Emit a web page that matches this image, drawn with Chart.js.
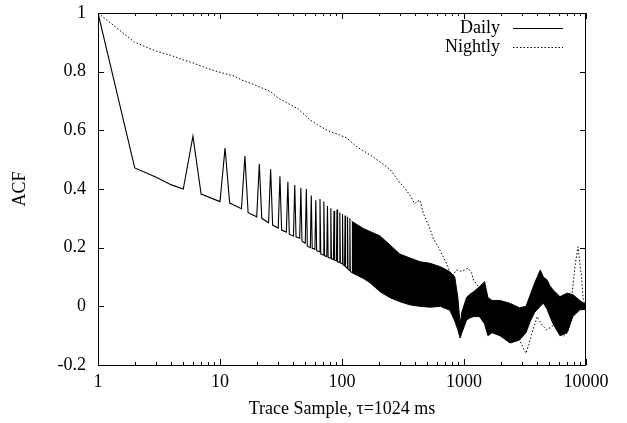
<!DOCTYPE html>
<html>
<head>
<meta charset="utf-8">
<script src="https://cdn.jsdelivr.net/npm/chart.js@4.4.0/dist/chart.umd.min.js"></script>
<style>
  html, body { margin: 0; padding: 0; background: #fff; }
  #wrap { width: 627px; height: 423px; position: relative; }
</style>
</head>
<body>
<div id="wrap"><canvas id="chart"></canvas></div>
<script>
// Daily ACF, sparse part: spikes every 5 samples
const dailyLag = [1, 2, 3, 4, 5, 6, 7, 10, 11, 12, 15, 16, 17, 20, 21, 22, 25, 26, 27, 30,
  31, 32, 35, 36, 37, 40, 41, 42, 45, 46, 47, 50, 51, 52, 55, 56, 57, 60, 61, 62,
  65, 66, 67, 70, 71, 72, 75, 76, 77, 80, 81, 82, 85, 86, 87, 90, 91, 92, 95, 96,
  97, 100, 101, 102, 105, 106, 107, 110, 111, 112, 115, 116, 117, 120];
const dailyAcf = [1.0, 0.472, 0.44, 0.414, 0.40, 0.58, 0.383, 0.357, 0.54, 0.352, 0.333, 0.512, 0.319, 0.305, 0.485, 0.30, 0.285, 0.467, 0.277, 0.267,
  0.443, 0.26, 0.253, 0.425, 0.245, 0.24, 0.414, 0.237, 0.232, 0.404, 0.222, 0.215, 0.40, 0.205, 0.20, 0.378, 0.198, 0.195, 0.362, 0.19,
  0.186, 0.366, 0.178, 0.175, 0.357, 0.172, 0.17, 0.342, 0.167, 0.164, 0.334, 0.162, 0.16, 0.325, 0.157, 0.155, 0.33, 0.152, 0.15, 0.32,
  0.148, 0.145, 0.315, 0.142, 0.138, 0.31, 0.135, 0.13, 0.305, 0.127, 0.122, 0.30, 0.12, 0.115];

// Daily ACF, dense part: upper / lower envelope of the oscillation
const bandLag = [120, 150, 170, 205, 246, 298, 360, 435, 525, 640, 765, 840, 890, 930, 960, 1050, 1110, 1200, 1340, 1475,
  1570, 1700, 1970, 2390, 2850, 3220, 3500, 3800, 4220, 4470, 4800, 5060, 5380, 6120, 7000, 7800, 8900, 10000];
const bandHigh = [0.29, 0.265, 0.255, 0.24, 0.21, 0.178, 0.165, 0.152, 0.147, 0.135, 0.118, 0.10, 0.03, -0.06, -0.02, 0.03, 0.04, 0.05, 0.067, 0.084,
  0.03, 0.02, 0.02, 0.01, -0.005, 0.0, 0.04, 0.08, 0.124, 0.10, 0.09, 0.07, 0.056, 0.033, 0.045, 0.04, 0.02, 0.005];
const bandLow = [0.115, 0.095, 0.08, 0.05, 0.03, 0.016, 0.005, 0.0, -0.003, 0.0, -0.013, -0.05, -0.08, -0.108, -0.09, -0.047, -0.04, -0.035, -0.035, -0.06,
  -0.10, -0.09, -0.10, -0.125, -0.115, -0.09, -0.05, -0.02, 0.0, 0.011, -0.01, -0.035, -0.06, -0.10, -0.09, -0.035, -0.012, -0.01];

// Nightly ACF
const nightLag = [1, 2, 3, 4, 5, 6, 8, 10, 13, 15, 20, 26, 30, 36, 44, 55, 65, 80, 95, 110,
  132, 170, 232, 250, 300, 320, 360, 395, 410, 435, 464, 520, 562, 620, 676, 730, 794, 868, 950, 1010,
  1080, 1150, 1200, 1310, 1450, 1600, 1800, 2000, 2300, 2600, 2850, 3220, 3400, 3600, 3980, 4300, 4750, 5200, 5700, 6100,
  6500, 7000, 7330, 7800, 8200, 8600, 9000, 9200, 9500, 10000];
const nightAcf = [1.0, 0.90, 0.87, 0.855, 0.84, 0.83, 0.81, 0.798, 0.785, 0.772, 0.752, 0.732, 0.71, 0.692, 0.672, 0.635, 0.615, 0.595, 0.585, 0.573,
  0.544, 0.516, 0.476, 0.465, 0.419, 0.408, 0.379, 0.35, 0.357, 0.362, 0.317, 0.27, 0.23, 0.20, 0.169, 0.14, 0.10, 0.124, 0.12, 0.124,
  0.13, 0.115, 0.09, 0.067, 0.03, 0.0, -0.02, -0.04, -0.05, -0.08, -0.115, -0.16, -0.13, -0.092, -0.035, -0.06, -0.08, -0.07, -0.058, -0.08,
  -0.103, -0.09, -0.07, 0.067, 0.15, 0.203, 0.13, 0.10, 0.02, 0.0];

const xMajor = [1, 10, 100, 1000, 10000];
const yTicks = [-0.2, 0, 0.2, 0.4, 0.6, 0.8, 1];
const seriesNames = ['Daily', 'Nightly'];

const pts = (xs, ys) => xs.map((x, i) => ({ x: x, y: ys[i] }));
const FONT = '"Liberation Serif", "DejaVu Serif", serif';

Chart.defaults.font.family = FONT;
Chart.defaults.font.size = 18;
Chart.defaults.color = '#000';

// gnuplot style frame, inward ticks and legend
const gnuFrame = {
  id: 'gnuFrame',
  afterDraw(chart) {
    const { ctx, chartArea: a, scales: { x, y } } = chart;
    ctx.save();
    ctx.strokeStyle = '#000';
    ctx.lineWidth = 1;
    ctx.strokeRect(a.left + 0.5, a.top + 0.5, a.right - a.left - 1, a.bottom - a.top);

    ctx.beginPath();
    yTicks.forEach(v => {
      const py = Math.round(y.getPixelForValue(v)) + 0.5;
      ctx.moveTo(a.left, py); ctx.lineTo(a.left + 6, py);
      ctx.moveTo(a.right, py); ctx.lineTo(a.right - 6, py);
    });
    xMajor.forEach(v => {
      const px = Math.round(x.getPixelForValue(v)) + 0.5;
      ctx.moveTo(px, a.bottom); ctx.lineTo(px, a.bottom - 6);
      ctx.moveTo(px, a.top); ctx.lineTo(px, a.top + 6);
    });
    xMajor.slice(0, -1).forEach(d => {
      for (let m = 2; m <= 9; m++) {
        const px = Math.round(x.getPixelForValue(d * m)) + 0.5;
        ctx.moveTo(px, a.bottom); ctx.lineTo(px, a.bottom - 3);
        ctx.moveTo(px, a.top); ctx.lineTo(px, a.top + 3);
      }
    });
    ctx.stroke();

    // legend
    ctx.font = '18px ' + FONT;
    ctx.textAlign = 'right';
    ctx.textBaseline = 'middle';
    ctx.fillStyle = '#000';
    seriesNames.forEach((name, i) => {
      const ly = a.top + 15 + i * 19;
      ctx.fillText(name, a.right - 86, ly);
      ctx.beginPath();
      ctx.setLineDash(i === 0 ? [] : [1.5, 2]);
      ctx.moveTo(a.right - 73, ly + 0.5);
      ctx.lineTo(a.right - 23, ly + 0.5);
      ctx.stroke();
    });
    ctx.restore();
  }
};

new Chart(document.getElementById('chart'), {
  type: 'line',
  data: {
    datasets: [
      {
        label: 'Nightly',
        data: pts(nightLag, nightAcf),
        borderColor: '#000',
        borderWidth: 1,
        borderDash: [1.5, 2],
        pointRadius: 0,
        fill: false
      },
      {
        label: 'Daily',
        data: pts(dailyLag, dailyAcf),
        borderColor: '#000',
        borderWidth: 1.1,
        pointRadius: 0,
        fill: false
      },
      {
        label: 'Daily high',
        data: pts(bandLag, bandHigh),
        borderColor: '#000',
        backgroundColor: '#000',
        borderWidth: 1,
        pointRadius: 0,
        fill: '+1'
      },
      {
        label: 'Daily low',
        data: pts(bandLag, bandLow),
        borderColor: '#000',
        borderWidth: 1,
        pointRadius: 0,
        fill: false
      }
    ]
  },
  options: {
    responsive: true,
    maintainAspectRatio: false,
    animation: false,
    layout: { padding: { top: 13, right: 41, left: 0, bottom: 0 } },
    plugins: {
      legend: { display: false },
      tooltip: { enabled: false }
    },
    scales: {
      x: {
        type: 'logarithmic',
        min: 1,
        max: 10000,
        grid: { display: false, drawTicks: false, tickLength: 0 },
        border: { display: false },
        afterBuildTicks: s => { s.ticks = xMajor.map(v => ({ value: v })); },
        afterFit: s => { s.height = 58; s.paddingLeft = 0; s.paddingRight = 0; },
        ticks: { padding: 6, maxRotation: 0, autoSkip: false, callback: v => String(v) },
        title: { display: true, text: 'Trace Sample, τ=1024 ms', padding: { top: 0, bottom: 3 } }
      },
      y: {
        min: -0.2,
        max: 1,
        grid: { display: false, drawTicks: false, tickLength: 0 },
        border: { display: false },
        afterBuildTicks: s => { s.ticks = yTicks.map(v => ({ value: v })); },
        afterFit: s => { s.width = 98; s.paddingTop = 0; s.paddingBottom = 0; },
        ticks: { padding: 12, callback: v => String(Math.round(v * 10) / 10) },
        title: { display: true, text: 'ACF', padding: { top: 9, bottom: 0 } }
      }
    }
  },
  plugins: [gnuFrame]
});
</script>
</body>
</html>
